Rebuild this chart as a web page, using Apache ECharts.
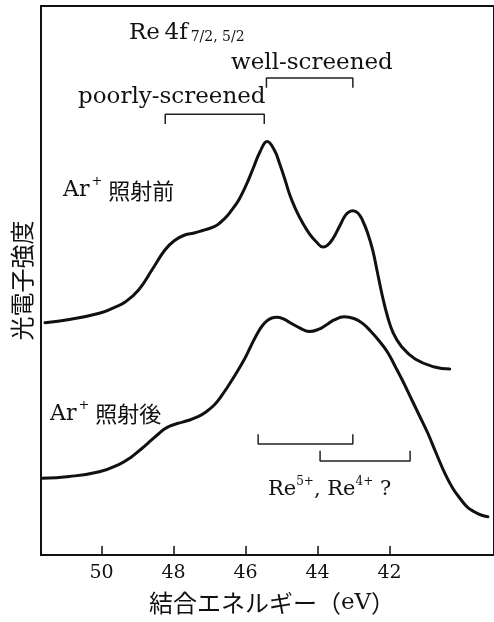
<!DOCTYPE html>
<html>
<head>
<meta charset="utf-8">
<script src="https://cdn.jsdelivr.net/npm/echarts@6/dist/echarts.min.js"></script>
<style>
  html, body { margin: 0; padding: 0; background: #fff; }
  #chart { width: 494px; height: 622px; }
</style>
</head>
<body>
<div id="chart"></div>
<script>
// Re 4f XPS spectra before and after Ar+ sputtering (binding energy, eV)
const tickValues = [50, 48, 46, 44, 42];

const energyBefore = [51.57, 50.89, 50.06, 49.65, 49.33, 48.97, 48.60, 48.24, 47.98, 47.69,
  47.43, 47.19, 46.87, 46.67, 46.50, 46.34, 46.18, 45.98, 45.79, 45.60, 45.40, 45.20,
  45.05, 44.91, 44.77, 44.61, 44.42, 44.23, 44.03, 43.85, 43.73, 43.57, 43.40, 43.24,
  43.13, 43.02, 42.88, 42.75, 42.61, 42.47, 42.34, 42.20, 42.06, 41.90, 41.68, 41.29,
  40.75, 40.33];
const intensityBefore = [42.31, 42.90, 44.03, 45.08, 46.14, 48.27, 51.91, 55.56, 57.25, 58.29,
  58.65, 59.11, 59.80, 60.75, 61.84, 63.21, 64.75, 67.40, 70.40, 73.41, 75.32, 73.77,
  71.22, 68.49, 65.57, 63.02, 60.56, 58.56, 57.01, 56.10, 56.38, 57.65, 59.74, 61.75,
  62.48, 62.71, 62.30, 60.93, 58.65, 55.56, 51.55, 47.18, 43.53, 40.44, 38.07, 35.70,
  34.24, 33.88];

const energyAfter = [51.66, 50.89, 50.06, 49.52, 49.16, 48.88, 48.61, 48.42, 48.24, 48.06,
  47.87, 47.60, 47.32, 47.10, 46.87, 46.69, 46.50, 46.28, 46.04, 45.87, 45.68, 45.54,
  45.40, 45.27, 45.13, 44.94, 44.77, 44.50, 44.23, 43.98, 43.76, 43.54, 43.26, 42.99,
  42.75, 42.53, 42.31, 42.06, 41.84, 41.62, 41.38, 41.16, 40.94, 40.72, 40.47, 40.25,
  40.01, 39.84, 39.65, 39.46, 39.27];
const intensityAfter = [13.97, 14.30, 15.17, 16.48, 17.91, 19.40, 20.95, 22.04, 22.99, 23.59,
  23.99, 24.50, 25.19, 26.05, 27.32, 28.78, 30.60, 32.88, 35.56, 37.80, 40.26, 41.71,
  42.68, 43.17, 43.30, 42.99, 42.35, 41.38, 40.71, 41.08, 41.89, 42.81, 43.39, 43.08,
  42.20, 40.80, 39.16, 36.98, 34.30, 31.51, 28.23, 25.23, 22.22, 18.76, 14.94, 12.20,
  10.02, 8.74, 7.89, 7.29, 6.98];

// energy ranges spanned by the component brackets
const poorlyRange = [48.23, 45.48];
const wellRange = [45.42, 43.02];
const re5Range = [45.65, 43.02];
const re4Range = [43.93, 41.43];

const SERIF = '"DejaVu Serif", serif';
const CJK = '"Noto Sans CJK JP", sans-serif';
const INK = '#111';

function zip(xs, ys) { return xs.map((x, i) => [x, ys[i]]); }

// bracket: horizontal bar at `bar` with short end ticks reaching `tip`
function bracket(range, bar, tip) {
  return {
    type: 'line',
    data: [[range[0], tip], [range[0], bar], [range[1], bar], [range[1], tip]],
    showSymbol: false,
    symbol: 'none',
    silent: true,
    lineStyle: { color: '#222', width: 1.5 },
    z: 3
  };
}

function spectrum(xs, ys) {
  return {
    type: 'line', data: zip(xs, ys),
    smooth: 0.45,
    showSymbol: false, symbol: 'none', silent: true,
    lineStyle: { color: INK, width: 3, join: 'round', cap: 'round' }
  };
}

// rich style shared by the "Ar+ ..." sample labels
const arRich = {
  a: { fontSize: 22, fontFamily: SERIF, fill: INK, lineHeight: 26, verticalAlign: 'bottom', padding: [0, 1, 0, 0] },
  p: { fontSize: 13, fontFamily: SERIF, fill: INK, lineHeight: 26, verticalAlign: 'top', padding: [0, 6, 0, 1] },
  c: { fontSize: 22, fontFamily: CJK, fill: INK, lineHeight: 26, verticalAlign: 'bottom' }
};

const chart = echarts.init(document.getElementById('chart'), null, { renderer: 'canvas' });

chart.setOption({
  backgroundColor: '#fff',
  animation: false,
  grid: {
    left: 41, top: 6, right: -6, bottom: 67,
    show: true, borderColor: INK, borderWidth: 2, backgroundColor: 'transparent'
  },
  xAxis: {
    type: 'value',
    inverse: true,
    min: 39.1,
    max: 51.68,
    axisLine: { show: true, lineStyle: { color: INK, width: 2 } },
    axisTick: { show: true, inside: true, length: 9, customValues: tickValues,
      lineStyle: { color: INK, width: 1.5 } },
    axisLabel: { show: true, customValues: tickValues, margin: 9,
      color: INK, fontSize: 19, fontFamily: SERIF },
    splitLine: { show: false }
  },
  yAxis: {
    type: 'value',
    min: 0,
    max: 100,
    axisLine: { show: true, lineStyle: { color: INK, width: 2 } },
    axisTick: { show: false },
    axisLabel: { show: false },
    splitLine: { show: false }
  },
  series: [
    spectrum(energyBefore, intensityBefore),
    spectrum(energyAfter, intensityAfter),
    bracket(poorlyRange, 80.3, 78.5),
    bracket(wellRange, 86.9, 85.1),
    bracket(re5Range, 20.2, 22.0),
    bracket(re4Range, 17.1, 19.0)
  ],
  graphic: [
    {
      type: 'text', x: 129, y: 31.5,
      style: {
        text: '{m|Re\u20094f}{s|7/2, 5/2}',
        textAlign: 'left', textVerticalAlign: 'middle', fill: INK,
        rich: {
          m: { fontSize: 23, fontFamily: SERIF, fill: INK, lineHeight: 26, verticalAlign: 'bottom' },
          s: { fontSize: 14, fontFamily: SERIF, fill: INK, lineHeight: 14, verticalAlign: 'bottom', padding: [0, 0, 0, 3] }
        }
      }
    },
    {
      type: 'text', x: 231, y: 63.5,
      style: { text: 'well-screened', font: '23px ' + SERIF, fill: INK,
        textAlign: 'left', textVerticalAlign: 'middle' }
    },
    {
      type: 'text', x: 78, y: 97.5,
      style: { text: 'poorly-screened', font: '23px ' + SERIF, fill: INK,
        textAlign: 'left', textVerticalAlign: 'middle' }
    },
    {
      type: 'text', x: 63, y: 188.5,
      style: {
        text: '{a|Ar}{p|+}{c|照射前}',
        textAlign: 'left', textVerticalAlign: 'middle', fill: INK, rich: arRich
      }
    },
    {
      type: 'text', x: 50, y: 412,
      style: {
        text: '{a|Ar}{p|+}{c|照射後}',
        textAlign: 'left', textVerticalAlign: 'middle', fill: INK, rich: arRich
      }
    },
    {
      type: 'text', x: 268, y: 488,
      style: {
        text: '{m|Re}{p|5+}{m|, Re}{p|4+}{m| ?}',
        textAlign: 'left', textVerticalAlign: 'middle', fill: INK,
        rich: {
          m: { fontSize: 21, fontFamily: SERIF, fill: INK, lineHeight: 24, verticalAlign: 'bottom' },
          p: { fontSize: 12, fontFamily: SERIF, fill: INK, lineHeight: 24, verticalAlign: 'top' }
        }
      }
    },
    {
      type: 'text', x: 272, y: 603,
      style: {
        text: '{c|結合エネルギー（}{e|eV}{c|）}',
        textAlign: 'center', textVerticalAlign: 'middle', fill: INK,
        rich: {
          c: { fontSize: 24, fontFamily: CJK, fill: INK, lineHeight: 28 },
          e: { fontSize: 23, fontFamily: SERIF, fill: INK, lineHeight: 28 }
        }
      }
    },
    {
      type: 'text', x: 21.5, y: 280.5, rotation: Math.PI / 2,
      style: { text: '光電子強度', font: '24px ' + CJK, fill: INK,
        textAlign: 'center', textVerticalAlign: 'middle' }
    }
  ]
});
</script>
</body>
</html>
